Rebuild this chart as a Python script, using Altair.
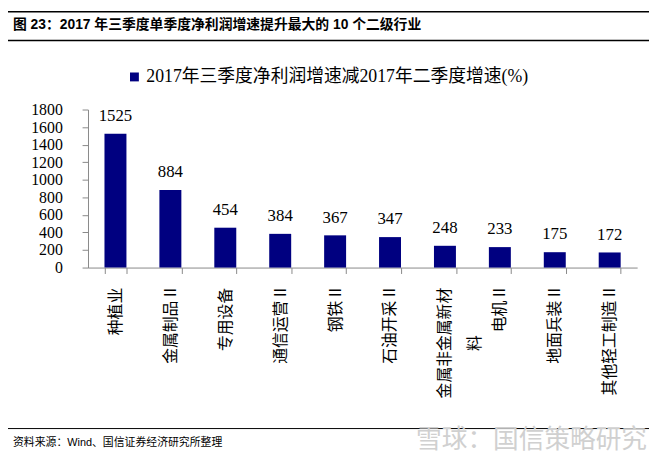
import altair as alt
import pandas as pd

categories = ["种植业", "金属制品 II", "专用设备", "通信运营 II", "钢铁 II",
              "石油开采 II", "金属非金属新材料", "电机 II", "地面兵装 II", "其他轻工制造 II"]
values = [1525, 884, 454, 384, 367, 347, 248, 233, 175, 172]
series_name = "2017年三季度净利润增速减2017年二季度增速(%)"
y_ticks = [0, 200, 400, 600, 800, 1000, 1200, 1400, 1600, 1800]
title_text = "图 23：2017 年三季度单季度净利润增速提升最大的 10 个二级行业"
source_text = "资料来源：Wind、国信证券经济研究所整理"
watermark_text = "雪球：国信策略研究"

SERIF = "Liberation Serif, Noto Sans CJK SC"
SANS = "Liberation Sans, Noto Sans CJK SC"

df = pd.DataFrame({"industry": categories, "value": values, "series": [series_name] * len(categories)})

label_expr = ("datum.label == '金属非金属新材料' ? ['金属非金属新材', '料\u3000\u3000\u3000\u200b'] : datum.label")

x_enc = alt.X("industry:N", sort=categories,
              scale=alt.Scale(paddingInner=0.6, paddingOuter=0.3),
              axis=alt.Axis(title=None, labelAngle=270, labelAlign="right", labelBaseline="middle",
                            labelPadding=14, tickSize=6, tickBand="extent",
                            domainColor="#888888", tickColor="#888888",
                            labelFont="Noto Sans CJK SC", labelFontSize=16, labelColor="#000000",
                            labelLineHeight=30, labelExpr=label_expr, labelLimit=0))
y_enc = alt.Y("value:Q", scale=alt.Scale(domain=[0, 1800], nice=False),
              axis=alt.Axis(title=None, values=y_ticks, tickCount=10, grid=False, tickSize=6,
                            labelPadding=20, labelOverlap=False, format="d",
                            domainColor="#888888", tickColor="#888888",
                            labelFont=SERIF, labelFontSize=16, labelColor="#000000"))

base = alt.Chart(df)

bars = base.mark_bar(color="#000080").encode(
    x=x_enc,
    y=y_enc,
    color=alt.Color("series:N",
                    scale=alt.Scale(domain=[series_name], range=["#000080"]),
                    legend=alt.Legend(orient="none", legendX=38, legendY=-42, title=None,
                                      symbolType="square", symbolSize=81, symbolStrokeWidth=0,
                                      labelFont=SERIF, labelFontSize=18, labelColor="#000000",
                                      labelLimit=0, labelOffset=3)),
)

labels = base.mark_text(dy=-18, font=SERIF, fontSize=17, color="#000000").encode(
    x=x_enc,
    y=y_enc,
    text=alt.Text("value:Q"),
)

one = pd.DataFrame({"a": [0]})
deco = alt.Chart(one)

top_rule = deco.mark_rule(color="#000000", strokeWidth=1.5).encode(
    x=alt.value(-81), x2=alt.value(568), y=alt.value(-99))
mid_rule = deco.mark_rule(color="#000000", strokeWidth=1.5).encode(
    x=alt.value(-81), x2=alt.value(568), y=alt.value(-70))
foot_rule = deco.mark_rule(color="#000000", strokeWidth=1).encode(
    x=alt.value(-81), x2=alt.value(568), y=alt.value(323))

title = deco.mark_text(align="left", baseline="middle", font=SANS, fontSize=14,
                       fontWeight="bold", color="#000000").encode(
    x=alt.value(-76), y=alt.value(-86), text=alt.value(title_text))
source = deco.mark_text(align="left", baseline="middle", font=SANS, fontSize=11,
                        color="#000000").encode(
    x=alt.value(-76), y=alt.value(338), text=alt.value(source_text))
watermark = deco.mark_text(align="right", baseline="middle", font="Noto Sans CJK SC", fontSize=26,
                           color="#d0d0d0").encode(
    x=alt.value(566), y=alt.value(335), text=alt.value(watermark_text))

chart = alt.layer(bars, labels, top_rule, mid_rule, foot_rule, title, source, watermark).properties(
    width=556, height=160,
    padding={"left": 81, "top": 100, "right": 12, "bottom": 189},
    autosize=alt.AutoSizeParams(type="none"),
    background="#ffffff",
).configure_view(stroke=None)

chart.save("out.html", embed_options={"renderer": "svg", "actions": False})
